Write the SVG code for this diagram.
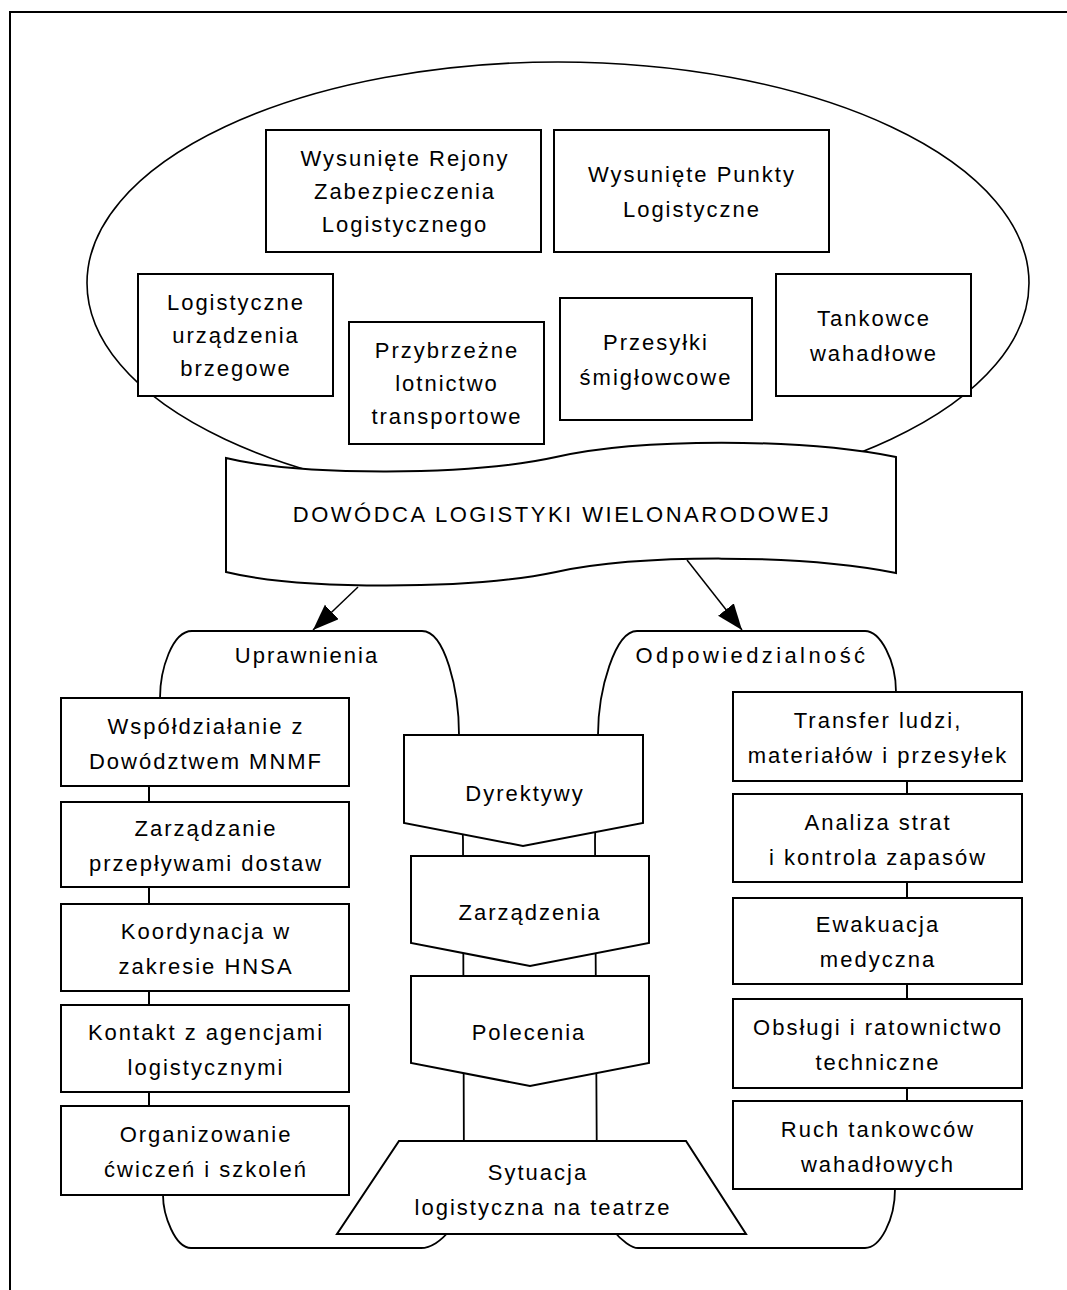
<svg xmlns="http://www.w3.org/2000/svg" width="1067" height="1290" viewBox="0 0 1067 1290">
<style>
  .shape { fill: #ffffff; stroke: #000000; stroke-width: 2; stroke-linejoin: miter; }
  .thin { fill: #ffffff; stroke: #000000; stroke-width: 1.6; }
  .outline { fill: none; stroke: #000000; stroke-width: 1.8; }
  .line { fill: none; stroke: #000000; stroke-width: 2; }
  .arrow { fill: none; stroke: #000000; stroke-width: 1.5; }
  text { font-family: "Liberation Sans", Arial, sans-serif; font-size: 22px; letter-spacing: 2px; text-anchor: middle; fill: #000000; }
  .title { letter-spacing: 2.5px; }
</style>
<defs>
  <marker id="head" markerUnits="userSpaceOnUse" markerWidth="28" markerHeight="22" refX="26" refY="10" orient="auto">
    <path d="M0,0 L26,10 L0,20 Z" fill="#000000"/>
  </marker>
</defs>
<rect x="0" y="0" width="1067" height="1290" fill="#ffffff"/>
<g id="frame">
  <path class="line" d="M10,1290 L10,12 L1067,12"/>
</g>

<g id="ellipse-group">
  <ellipse class="thin" cx="558" cy="283" rx="471" ry="221"/>
</g>

<g id="node-wrzl">
  <rect class="shape" x="266" y="130" width="275" height="122"/>
  <text x="405" y="166">Wysunięte Rejony</text>
  <text x="405" y="199">Zabezpieczenia</text>
  <text x="405" y="232">Logistycznego</text>
</g>
<g id="node-wpl">
  <rect class="shape" x="554" y="130" width="275" height="122"/>
  <text x="692" y="182">Wysunięte Punkty</text>
  <text x="692" y="217">Logistyczne</text>
</g>
<g id="node-lub">
  <rect class="shape" x="138" y="274" width="195" height="122"/>
  <text x="236" y="310">Logistyczne</text>
  <text x="236" y="343">urządzenia</text>
  <text x="236" y="376">brzegowe</text>
</g>
<g id="node-plt">
  <rect class="shape" x="349" y="322" width="195" height="122"/>
  <text x="447" y="358">Przybrzeżne</text>
  <text x="447" y="391">lotnictwo</text>
  <text x="447" y="424">transportowe</text>
</g>
<g id="node-ps">
  <rect class="shape" x="560" y="298" width="192" height="122"/>
  <text x="656" y="350">Przesyłki</text>
  <text x="656" y="385">śmigłowcowe</text>
</g>
<g id="node-tw">
  <rect class="shape" x="776" y="274" width="195" height="122"/>
  <text x="874" y="326">Tankowce</text>
  <text x="874" y="361">wahadłowe</text>
</g>

<g id="node-dowodca">
  <path class="shape" d="M226,458 C300,476 470,476 556,457 C640,438 800,438 896,457 L896,573 C800,554 640,554 556,572 C470,590 300,590 226,572 Z"/>
  <text class="title" x="562" y="522">DOWÓDCA LOGISTYKI WIELONARODOWEJ</text>
</g>

<g id="node-uprawnienia">
  <path class="outline" d="M160,698 C160,670 172,631 192,631 L422,631 C445,631 459,690 459,735 L463,840 L464,1190 C464,1220 440,1248 421,1248 L191,1248 C175,1248 163,1215 163,1195"/>
  <text x="307" y="663">Uprawnienia</text>
</g>
<g id="node-odpowiedzialnosc">
  <path class="outline" d="M896,692 C896,660 880,631 865,631 L637,631 C615,631 598,690 598,735 L595,840 L597,1190 C597,1220 626,1248 638,1248 L865,1248 C880,1248 895,1220 895,1189"/>
  <text x="752" y="663" style="letter-spacing:3.4px">Odpowiedzialność</text>
</g>

<g id="connectors">
  <line class="arrow" x1="358" y1="587" x2="313" y2="630" marker-end="url(#head)"/>
  <line class="arrow" x1="687" y1="560" x2="742" y2="630" marker-end="url(#head)"/>
  <line class="line" x1="149" y1="786" x2="149" y2="802"/>
  <line class="line" x1="149" y1="887" x2="149" y2="904"/>
  <line class="line" x1="149" y1="991" x2="149" y2="1005"/>
  <line class="line" x1="149" y1="1092" x2="149" y2="1106"/>
  <line class="line" x1="907" y1="781" x2="907" y2="794"/>
  <line class="line" x1="907" y1="882" x2="907" y2="898"/>
  <line class="line" x1="907" y1="984" x2="907" y2="999"/>
  <line class="line" x1="907" y1="1088" x2="907" y2="1101"/>
</g>

<g id="node-l1">
  <rect class="shape" x="61" y="698" width="288" height="88"/>
  <text x="206" y="733.5">Współdziałanie z</text>
  <text x="206" y="768.5">Dowództwem MNMF</text>
</g>
<g id="node-l2">
  <rect class="shape" x="61" y="802" width="288" height="85"/>
  <text x="206" y="836">Zarządzanie</text>
  <text x="206" y="871">przepływami dostaw</text>
</g>
<g id="node-l3">
  <rect class="shape" x="61" y="904" width="288" height="87"/>
  <text x="206" y="939">Koordynacja w</text>
  <text x="206" y="974">zakresie HNSA</text>
</g>
<g id="node-l4">
  <rect class="shape" x="61" y="1005" width="288" height="87"/>
  <text x="206" y="1040">Kontakt z agencjami</text>
  <text x="206" y="1075">logistycznymi</text>
</g>
<g id="node-l5">
  <rect class="shape" x="61" y="1106" width="288" height="89"/>
  <text x="206" y="1142">Organizowanie</text>
  <text x="206" y="1177">ćwiczeń i szkoleń</text>
</g>

<g id="node-r1">
  <rect class="shape" x="733" y="692" width="289" height="89"/>
  <text x="878" y="728">Transfer ludzi,</text>
  <text x="878" y="763">materiałów i przesyłek</text>
</g>
<g id="node-r2">
  <rect class="shape" x="733" y="794" width="289" height="88"/>
  <text x="878" y="829.5">Analiza strat</text>
  <text x="878" y="864.5">i kontrola zapasów</text>
</g>
<g id="node-r3">
  <rect class="shape" x="733" y="898" width="289" height="86"/>
  <text x="878" y="932">Ewakuacja</text>
  <text x="878" y="966.5">medyczna</text>
</g>
<g id="node-r4">
  <rect class="shape" x="733" y="999" width="289" height="89"/>
  <text x="878" y="1035">Obsługi i ratownictwo</text>
  <text x="878" y="1070">techniczne</text>
</g>
<g id="node-r5">
  <rect class="shape" x="733" y="1101" width="289" height="88"/>
  <text x="878" y="1136.5">Ruch tankowców</text>
  <text x="878" y="1171.5">wahadłowych</text>
</g>

<g id="node-dyrektywy">
  <path class="shape" d="M404,735 L643,735 L643,823 L523,846 L404,823 Z"/>
  <text x="525" y="801">Dyrektywy</text>
</g>
<g id="node-zarzadzenia">
  <path class="shape" d="M411,856 L649,856 L649,943 L530,966 L411,943 Z"/>
  <text x="530" y="920">Zarządzenia</text>
</g>
<g id="node-polecenia">
  <path class="shape" d="M411,976 L649,976 L649,1063 L530,1086 L411,1063 Z"/>
  <text x="529" y="1040">Polecenia</text>
</g>
<g id="node-sytuacja">
  <path class="shape" d="M399,1141 L686,1141 L746,1234 L337,1234 Z"/>
  <text x="538" y="1180">Sytuacja</text>
  <text x="543" y="1215">logistyczna na teatrze</text>
</g>
</svg>
